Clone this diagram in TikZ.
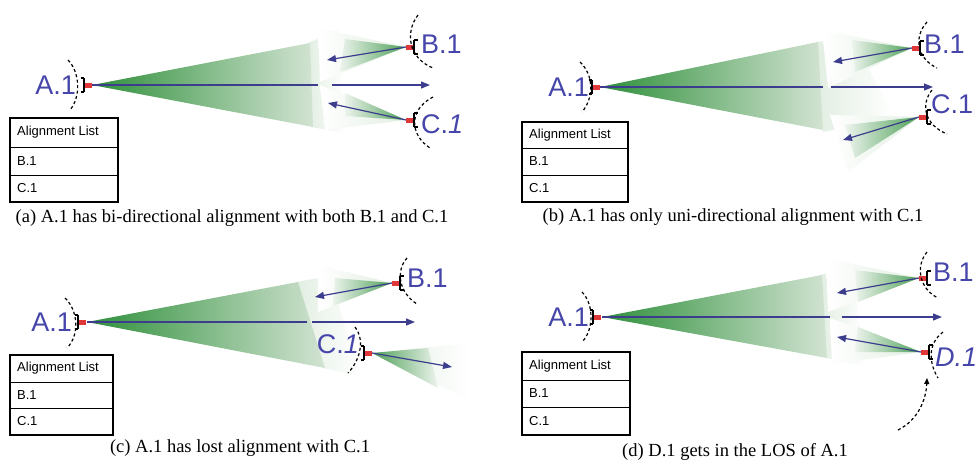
\documentclass[tikz,border=0pt]{standalone}
\usepackage{fontspec}
\setmainfont{Liberation Serif}
\setsansfont{Liberation Sans}
\usetikzlibrary{arrows.meta}
\definecolor{lblue}{HTML}{4646AA}
\definecolor{ablue}{HTML}{3D3D8E}
\definecolor{gD}{HTML}{2E8F3A}
\definecolor{gL}{HTML}{D2E3D2}
\definecolor{hC}{HTML}{E2EEE2}
\definecolor{devred}{HTML}{E03838}
\newcommand{\devR}[2]{%
  \fill[devred] (#1+0.5,#2-2.5) rectangle (#1+8,#2+2.5);
  \draw[line width=2.8pt] (#1,#2-7) -- (#1,#2+7);
  \draw[line width=1.6pt] (#1-3.5,#2-7) -- (#1,#2-7) (#1-3.5,#2+7) -- (#1,#2+7);}
\newcommand{\devL}[2]{%
  \fill[devred] (#1-0.5,#2-2.5) rectangle (#1-8,#2+2.5);
  \draw[line width=2.8pt] (#1,#2-7) -- (#1,#2+7);
  \draw[line width=1.6pt] (#1+3.5,#2-7) -- (#1,#2-7) (#1+3.5,#2+7) -- (#1,#2+7);}
\begin{document}
\begin{tikzpicture}[x=1pt,y=-1pt,
  lab/.style={font=\sffamily\fontsize{27}{27}\selectfont, text=lblue, inner sep=0pt},
  captxt/.style={font=\fontsize{18.5}{20}\selectfont, inner sep=0pt},
  tabtxt/.style={font=\sffamily\fontsize{13}{14}\selectfont, anchor=west, inner sep=0pt},
  ray/.style={draw=ablue, line width=1.2pt},
  rayA/.style={ray, -{Triangle[length=9pt,width=7pt]}},
  darc/.style={dash pattern=on 3pt off 2.5pt, line width=1.2pt},
  tbl/.style={line width=2.4pt},
  tsep/.style={line width=1pt},
  coneR/.style={left color=gD, right color=gL},
  haloR/.style={left color=hC, right color=white},
  haloL/.style={left color=white, right color=hC},
  beamR/.style={left color=gD!85, right color=gL!40!white},
  beamL/.style={left color=gL!40!white, right color=gD!85},
]
\useasboundingbox (0,0) rectangle (977,469);
\fill[white] (0,0) rectangle (977,469);

% ================= (a) =================
\coordinate (aA) at (92,85);
\coordinate (aG1) at (318,85);
\coordinate (aG2) at (332,85);
\coordinate (aE) at (430,85);
\coordinate (aB) at (406,47);
\coordinate (aBe) at (327,60);
\coordinate (aC) at (406,120);
\coordinate (aCe) at (328,103);
\shade[haloR] (308,43) -- (338,30) -- (345,133) -- (311,127) -- cycle;
\shade[coneR] (aA) -- (310,43) -- (313,127) -- cycle;
\shade[haloL] (aB) -- (318,28) -- (320,82) -- cycle;
\shade[beamL] (aB) -- (345,39) -- (340,72) -- cycle;
\shade[haloL] (aC) -- (320,85) -- (325,130) -- cycle;
\shade[beamL] (aC) -- (345,93) -- (345,116) -- cycle;
\draw[ray] (aA) -- (aG1);
\draw[rayA] (aG2) -- (aE);
\draw[rayA] (aB) -- (aBe);
\draw[rayA] (aC) -- (aCe);
\devR{84}{85}
\devL{414}{47}
\devL{414}{120}
\draw[darc] (68,60) .. controls (80,72) and (81,97) .. (70,110);
\draw[darc] (418,15) .. controls (405,32) and (408,58) .. (433,68);
\draw[darc] (433,97) .. controls (408,110) and (410,135) .. (430,148);
\node[lab, anchor=east] (aLA) at (76,85) {A.1};
\node[lab, anchor=west] (aLB) at (421,44) {B.1};
\node[lab, anchor=west] (aLC) at (421,124) {C.{\itshape 1}};
\draw[tbl] (10,118) rectangle (118,202);
\draw[tsep] (10,147) -- (118,147) (10,175) -- (118,175);
\node[tabtxt] (aT0) at (17,132.5) {Alignment List};
\node[tabtxt] (aT1) at (17,161) {B.1};
\node[tabtxt] (aT2) at (17,188.5) {C.1};
\node[captxt] (aCap) at (232,218) {(a) A.1 has bi-directional alignment with both B.1 and C.1};

% ================= (b) =================
\coordinate (bA) at (600,87);
\coordinate (bG1) at (823,87);
\coordinate (bG2) at (831,87);
\coordinate (bE) at (933,87);
\coordinate (bB) at (912,48);
\coordinate (bBe) at (833,62);
\coordinate (bC) at (919,117);
\coordinate (bCe) at (843,140);
\shade[haloR] (816,42) -- (852,38) -- (895,118) -- (823,132) -- cycle;
\shade[coneR] (bA) -- (818,42) -- (823,130) -- cycle;
\shade[haloL] (bB) -- (822,30) -- (828,88) -- cycle;
\shade[beamL] (bB) -- (852,40) -- (855,72) -- cycle;
\shade[haloL] (bC) -- (830,115) -- (848,172) -- cycle;
\shade[beamL] (bC) -- (845,125) -- (855,158) -- cycle;
\draw[ray] (bA) -- (bG1);
\draw[rayA] (bG2) -- (bE);
\draw[rayA] (bB) -- (bBe);
\draw[rayA] (bC) -- (bCe);
\devR{592}{87}
\devL{920}{48}
\devL{927}{117}
\draw[darc] (580,62) .. controls (594,75) and (594,98) .. (582,112);
\draw[darc] (927,22) .. controls (914,36) and (916,58) .. (937,68);
\draw[darc] (932,90) .. controls (920,105) and (925,125) .. (947,134);
\node[lab, anchor=east] (bLA) at (589,87) {A.1};
\node[lab, anchor=west] (bLB) at (924,44) {B.1};
\node[lab, anchor=west] (bLC) at (931,104) {C.1};
\draw[tbl] (522,122) rectangle (628,202);
\draw[tsep] (522,148) -- (628,148) (522,175) -- (628,175);
\node[tabtxt] (bT0) at (529,135) {Alignment List};
\node[tabtxt] (bT1) at (529,161.5) {B.1};
\node[tabtxt] (bT2) at (529,188.5) {C.1};
\node[captxt] (bCap) at (733,217) {(b) A.1 has only uni-directional alignment with C.1};

% ================= (c) =================
\coordinate (cA) at (87,322);
\coordinate (cG1) at (307,322);
\coordinate (cG2) at (312,322);
\coordinate (cE) at (415,322);
\coordinate (cB) at (392,283);
\coordinate (cBe) at (315,297);
\coordinate (cC) at (372,353);
\coordinate (cCe) at (452,367);
\shade[haloR] (296,282) -- (330,276) -- (360,376) -- (323,368) -- cycle;
\shade[coneR] (cA) -- (298,282) -- (325,368) -- cycle;
\shade[haloL] (cB) -- (318,265) -- (318,312) -- cycle;
\shade[beamL] (cB) -- (335,278) -- (333,306) -- cycle;
\shade[haloR] (cC) -- (470,343) -- (470,400) -- cycle;
\shade[beamR] (cC) -- (428,348) -- (438,388) -- cycle;
\draw[ray] (cA) -- (cG1);
\draw[rayA] (cG2) -- (cE);
\draw[rayA] (cB) -- (cBe);
\draw[rayA] (cC) -- (cCe);
\devR{78}{322}
\devL{400}{283}
\devR{364}{353}
\draw[darc] (65,298) .. controls (78,310) and (80,335) .. (67,348);
\draw[darc] (407,258) .. controls (396,270) and (398,292) .. (417,304);
\draw[darc] (355,327) .. controls (364,338) and (362,358) .. (348,373);
\node[lab, anchor=east] (cLA) at (72,322) {A.1};
\node[lab, anchor=west] (cLB) at (407,278) {B.1};
\node[lab, anchor=east] (cLC) at (359,344) {C.{\itshape 1}};
\draw[tbl] (10,355) rectangle (113,435);
\draw[tsep] (10,382) -- (113,382) (10,408) -- (113,408);
\node[tabtxt] (cT0) at (17,368.5) {Alignment List};
\node[tabtxt] (cT1) at (17,395) {B.1};
\node[tabtxt] (cT2) at (17,421.5) {C.1};
\node[captxt] (cCap) at (240,448) {(c) A.1 has lost alignment with C.1};

% ================= (d) =================
\coordinate (dA) at (602,317);
\coordinate (dG1) at (830,317);
\coordinate (dG2) at (842,317);
\coordinate (dE) at (942,317);
\coordinate (dB) at (919,278);
\coordinate (dBe) at (837,293);
\coordinate (dD) at (921,352);
\coordinate (dDe) at (837,337);
\coordinate (dS) at (898,430);
\coordinate (dT) at (927,378);
\shade[haloR] (820,275) -- (852,268) -- (865,366) -- (827,358) -- cycle;
\shade[coneR] (dA) -- (822,275) -- (827,358) -- cycle;
\shade[haloL] (dB) -- (826,258) -- (828,312) -- cycle;
\shade[beamL] (dB) -- (855,270) -- (858,302) -- cycle;
\shade[haloL] (dD) -- (830,318) -- (832,364) -- cycle;
\shade[beamL] (dD) -- (858,327) -- (855,352) -- cycle;
\draw[ray] (dA) -- (dG1);
\draw[rayA] (dG2) -- (dE);
\draw[rayA] (dB) -- (dBe);
\draw[rayA] (dD) -- (dDe);
\devR{593}{317}
\devL{927}{278}
\devL{929}{352}
\draw[darc] (582,292) .. controls (594,304) and (594,330) .. (582,342);
\draw[darc] (927,252) .. controls (916,265) and (918,288) .. (938,298);
\draw[darc] (943,332) .. controls (926,345) and (930,365) .. (938,378);
\draw[darc, -{Triangle[length=6pt,width=5pt]}] (dS) .. controls (918,420) and (926,400) .. (dT);
\node[lab, anchor=east] (dLA) at (589,317) {A.1};
\node[lab, anchor=west] (dLB) at (933,272) {B.1};
\node[lab, anchor=west] (dLD) at (935,357) {\itshape D.1};
\draw[tbl] (522,352) rectangle (630,435);
\draw[tsep] (522,380) -- (630,380) (522,407) -- (630,407);
\node[tabtxt] (dT0) at (529,366) {Alignment List};
\node[tabtxt] (dT1) at (529,393.5) {B.1};
\node[tabtxt] (dT2) at (529,421) {C.1};
\node[captxt] (dCap) at (735,452) {(d) D.1 gets in the LOS of A.1};
\end{tikzpicture}
\end{document}
